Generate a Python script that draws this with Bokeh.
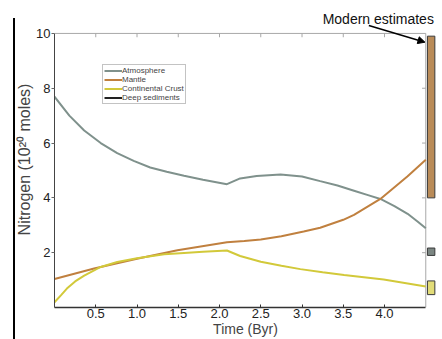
from bokeh.plotting import figure
from bokeh.models import (FixedTicker, PrintfTickFormatter, Label,
                          Arrow, NormalHead, Legend, LegendItem, Range1d)
from bokeh.embed import file_html
from bokeh.resources import INLINE

# ---- data ----
atm_t = [0, 0.18, 0.36, 0.56, 0.76, 0.96, 1.16, 1.36, 1.57, 1.8, 2.09, 2.25, 2.45,
         2.74, 3.0, 3.22, 3.43, 3.63, 3.8, 3.95, 4.12, 4.28, 4.4, 4.5]
atm_n = [7.69, 7.0, 6.46, 6.0, 5.63, 5.35, 5.11, 4.95, 4.81, 4.66, 4.50, 4.71, 4.80,
         4.85, 4.78, 4.61, 4.45, 4.26, 4.10, 3.96, 3.70, 3.42, 3.14, 2.89]

man_t = [0, 0.48, 1.0, 1.49, 2.09, 2.3, 2.5, 2.75, 3.02, 3.22, 3.5, 3.63, 3.95, 4.28, 4.5]
man_n = [1.04, 1.42, 1.78, 2.09, 2.38, 2.43, 2.48, 2.60, 2.77, 2.91, 3.20, 3.38, 3.96, 4.79, 5.39]

cru_t = [0, 0.08, 0.15, 0.25, 0.36, 0.56, 0.76, 1.0, 1.33, 1.57, 1.8, 2.09, 2.25,
         2.5, 2.75, 2.98, 3.25, 3.51, 3.99, 4.5]
cru_n = [0.19, 0.45, 0.69, 0.95, 1.16, 1.48, 1.66, 1.80, 1.94, 1.99, 2.03, 2.08, 1.88,
         1.67, 1.52, 1.40, 1.29, 1.19, 1.02, 0.77]

sed_t = [float("nan")]
sed_n = [float("nan")]

est_low = [4.0, 1.9, 0.47]
est_high = [9.9, 2.17, 0.97]
est_colors = ["#b98b58", "#7b8682", "#e2dc78"]

x_ticks = [0.5, 1.0, 1.5, 2.0, 2.5, 3.0, 3.5, 4.0]
y_ticks = [2, 4, 6, 8, 10]
right_ticks = [2, 4, 6, 8]

FONT = "Liberation Sans"
T_END = 4.5
N_TOP = 10
GREY = "#a8a8a8"

p = figure(width=440, height=339, x_range=Range1d(0, 4.63), y_range=Range1d(0, 10.8),
           output_backend="svg", toolbar_location=None,
           min_border_left=54, min_border_right=4, min_border_top=11, min_border_bottom=10)
p.outline_line_color = None
p.grid.visible = False
p.border_fill_color = None
p.styles = {
    "background-image": "linear-gradient(#000, #000)",
    "background-size": "2px calc(100% - 18px)",
    "background-position": "13px 18px",
    "background-repeat": "no-repeat",
}

# bottom axis
xa = p.xaxis[0]
xa.bounds = (0, T_END)
xa.ticker = FixedTicker(ticks=x_ticks)
xa.formatter = PrintfTickFormatter(format="%.1f")
xa.major_tick_in = 3
xa.major_tick_out = 0
xa.minor_tick_line_color = None
xa.axis_line_color = "#333333"
xa.major_tick_line_color = "#333333"
xa.axis_line_width = 1.5
xa.axis_label = "Time (Byr)"
xa.axis_label_text_font = FONT
xa.axis_label_text_font_style = "normal"
xa.axis_label_text_font_size = "14px"
xa.axis_label_standoff = 0
xa.major_label_text_font = FONT
xa.major_label_text_font_size = "13px"
xa.major_label_standoff = 1
xa.major_label_text_color = "#222222"

# left axis
ya = p.yaxis[0]
ya.bounds = (0, N_TOP)
ya.ticker = FixedTicker(ticks=y_ticks)
ya.major_tick_in = 0
ya.major_tick_out = 3
ya.minor_tick_line_color = None
ya.axis_line_color = "#444444"
ya.major_tick_line_color = "#666666"
ya.axis_label = "Nitrogen (10²⁰ moles)"
ya.axis_label_text_font = FONT
ya.axis_label_text_font_style = "normal"
ya.axis_label_text_font_size = "16px"
ya.axis_label_standoff = 0
ya.major_label_text_font = FONT
ya.major_label_text_font_size = "13px"
ya.major_label_standoff = 1
ya.major_label_text_color = "#222222"

# top and right borders of the box, with inward ticks
p.segment(x0=[0], y0=[N_TOP], x1=[T_END], y1=[N_TOP], line_color=GREY, line_width=1)
p.segment(x0=[T_END], y0=[0], x1=[T_END], y1=[N_TOP], line_color=GREY, line_width=1)
p.segment(x0=x_ticks, y0=[N_TOP] * len(x_ticks), x1=x_ticks,
          y1=[N_TOP - 0.14] * len(x_ticks), line_color=GREY, line_width=1)
p.segment(x0=[T_END] * len(right_ticks), y0=right_ticks,
          x1=[T_END - 0.045] * len(right_ticks), y1=right_ticks,
          line_color=GREY, line_width=1)

# series
r_atm = p.line(atm_t, atm_n, line_color="#7f918c", line_width=2)
r_man = p.line(man_t, man_n, line_color="#c0803f", line_width=2)
r_cru = p.line(cru_t, cru_n, line_color="#d2c93a", line_width=2)
r_sed = p.line(sed_t, sed_n, line_color="#222222", line_width=2)

# modern estimates
p.quad(left=4.52, right=4.61, bottom=est_low, top=est_high,
       fill_color=est_colors, line_color="#3a3a3a", line_width=1)

p.add_layout(Label(x=3.25, y=10.54, text="Modern estimates", text_font=FONT,
                   text_font_size="14px", text_baseline="middle", text_color="#111111"))
p.add_layout(Arrow(end=NormalHead(size=7, fill_color="black", line_color="black"),
                   x_start=3.81, y_start=10.29, x_end=4.49, y_end=9.68,
                   line_width=1.5, line_color="black"))

legend = Legend(items=[LegendItem(label="Atmosphere", renderers=[r_atm]),
                       LegendItem(label="Mantle", renderers=[r_man]),
                       LegendItem(label="Continental Crust", renderers=[r_cru]),
                       LegendItem(label="Deep sediments", renderers=[r_sed])],
                location=(48, 203), label_text_font=FONT, label_text_font_size="8px",
                label_text_line_height=0.8,
                glyph_height=5, glyph_width=18, label_height=5, spacing=-4,
                padding=1, margin=0, label_standoff=0,
                border_line_color="#888888", background_fill_alpha=1)
p.add_layout(legend)

open("out.html", "w").write(file_html(p, INLINE))
